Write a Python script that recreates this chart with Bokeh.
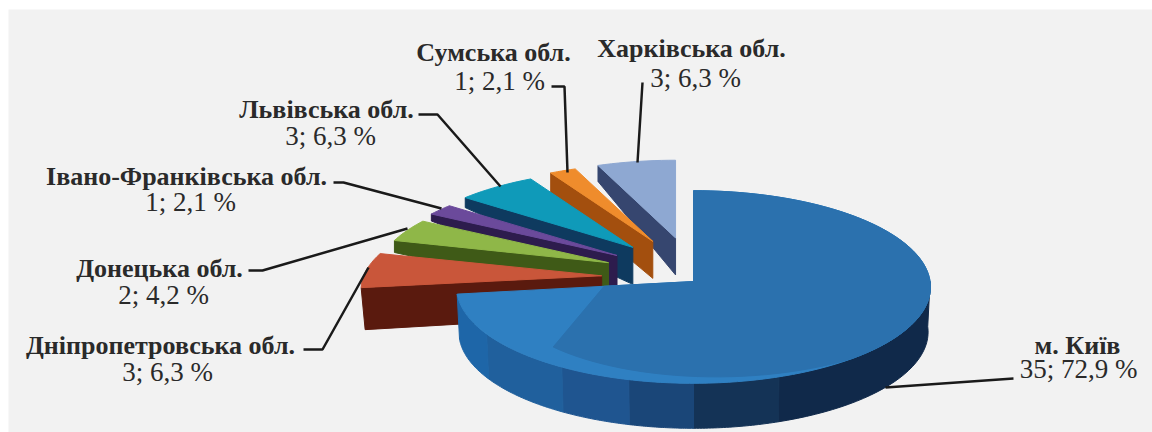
import numpy as np
from bokeh.plotting import figure
from bokeh.models import Range1d
from bokeh.core.properties import value
from bokeh.embed import file_html
from bokeh.resources import INLINE

# Data
regions = ["м. Київ", "Дніпропетровська обл.", "Донецька обл.", "Івано-Франківська обл.",
           "Львівська обл.", "Сумська обл.", "Харківська обл."]
counts = [35, 3, 2, 1, 3, 1, 3]
percents = ["72,9", "6,3", "4,2", "2,1", "6,3", "2,1", "6,3"]

# Styles
top_colors = ["#2f80c2", "#c9563a", "#8fb748", "#6b4a9b", "#0f9ab9", "#ef8c2c", "#8ea8d2"]
wall_colors = [None, "#5a1a0e", "#3f5a17", "#2d1c4d", "#0e3a5f", "#a34f0e", "#36466f"]
outer_depth = [0, 42, 12, 7, 10, 20, 16]
inner_depth = [0, 40, 37, 37, 37, 37, 37]
radius_x = [0, 238, 230, 230, 230, 230, 230]
main_bands = [(90, 160, "#10294a"), (160, 180, "#143356"), (180, 195, "#1a4678"),
              (195, 212, "#1f5590"), (212, 238, "#20609d"), (238, 262.5, "#1e66a8")]
leaders = [([885, 1013], [387, 378]),
           ([333, 343, 441], [182, 182, 208]),
           ([500, 437, 418], [186, 114, 114]),
           ([567, 564, 551], [172, 86, 86]),
           ([637, 642], [162, 82]),
           ([407, 262, 248], [228, 270, 270]),
           ([368, 322, 303], [267, 349, 349])]
name_pos = [(1077, 345), (160, 345), (159, 268), (186, 176), (326, 109), (493, 52), (691, 48)]
val_pos = [(1078, 368), (167, 371), (163, 294), (190, 201), (330, 135), (499, 80), (695, 77)]

CX, CY = 693, 281
R_MAIN, S_MAIN, Q_MAIN = 236.6, 96, 0.057
S_EXP, Q_EXP = 89, 0.146
EXPLODE, K, LIFT = 92, 0.45, 3
DEPTH_MAIN = 45


def proj(ang, r, R, S, q):
    a = np.radians(ang)
    u, v = r * np.sin(a), -r * np.cos(a)
    w = 1 - q * v
    return R * u / w, S * v / w


p = figure(width=1152, height=432, output_backend="svg", toolbar_location=None,
           x_range=Range1d(0, 1152), y_range=Range1d(432, 0), min_border=0,
           background_fill_color="#ffffff", border_fill_color="#ffffff", outline_line_color=None)
p.axis.visible = False
p.grid.visible = False

p.quad(left=[8], right=[1152], top=[9], bottom=[432], fill_color="#f2f2f2", line_color=None)

edges = np.concatenate([[0], np.cumsum(counts)]) / sum(counts) * 360

# exploded slices, back to front
for i in range(6, 0, -1):
    s, e = edges[i], edges[i + 1]
    m = (s + e) / 2
    ax = CX + EXPLODE * np.sin(np.radians(m))
    ay = CY - LIFT - EXPLODE * K * np.cos(np.radians(m))
    sx, sy = proj(s, 1, radius_x[i], S_EXP, Q_EXP)
    p.patch([ax + sx, ax, ax, ax + sx + 4 * (i == 1)],
            [ay + sy, ay, ay + inner_depth[i], ay + sy + outer_depth[i]],
            fill_color=wall_colors[i], line_color=wall_colors[i])
    aa = np.linspace(s, e, 12)
    xx, yy = proj(aa, 1, radius_x[i], S_EXP, Q_EXP)
    p.patch([ax] + list(ax + xx), [ay] + list(ay + yy),
            fill_color=top_colors[i], line_color=top_colors[i])

# main slice wall
for a0, a1, col in main_bands:
    aa = np.linspace(a0, a1, 30)
    xx, yy = proj(aa, 1, R_MAIN, S_MAIN, Q_MAIN)
    p.patch(list(CX + xx) + list(CX + xx[::-1] * 0.99),
            list(CY + yy) + list(CY + yy[::-1] + DEPTH_MAIN),
            fill_color=col, line_color=col)

# main slice top
end = edges[1]
aa = np.linspace(0, end, 120)
xx, yy = proj(aa, 1, R_MAIN, S_MAIN, Q_MAIN)
p.patch([CX] + list(CX + xx), [CY] + list(CY + yy), fill_color=top_colors[0], line_color=top_colors[0])

# darker inner facet of the main slice
a_out = np.linspace(0, 140, 60)
a_in = np.linspace(140, 221, 30)
r_in = np.linspace(1, 0.87, 30)
ox, oy = proj(a_out, 1, R_MAIN, S_MAIN, Q_MAIN)
ix, iy = proj(a_in, r_in, R_MAIN, S_MAIN, Q_MAIN)
ex, ey = proj(end, 0.38, R_MAIN, S_MAIN, Q_MAIN)
p.patch([CX] + list(CX + ox) + list(CX + ix) + [CX + ex],
        [CY] + list(CY + oy) + list(CY + iy) + [CY + ey],
        fill_color="#2b71ae", line_color="#2b71ae")

# leaders
p.multi_line([l[0] for l in leaders], [l[1] for l in leaders], line_color="#1a1a1a", line_width=2.5)

# labels
font = value("Liberation Serif")
p.text([q[0] for q in name_pos], [q[1] for q in name_pos], text=regions, text_font=font,
       text_font_size="26px", text_color="#2a2a2a", text_align="center", text_baseline="middle",
       text_font_style="bold")
vals = [f"{c}; {q} %" for c, q in zip(counts, percents)]
p.text([q[0] for q in val_pos], [q[1] for q in val_pos], text=vals, text_font=font,
       text_font_size="27px", text_color="#2a2a2a", text_align="center", text_baseline="middle")

open("out.html", "w").write(file_html(p, INLINE))
